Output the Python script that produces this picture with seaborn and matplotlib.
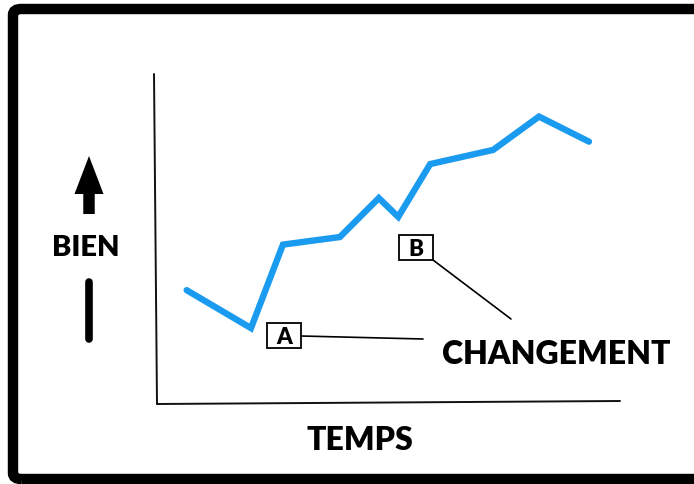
import matplotlib
matplotlib.use("Agg")
import matplotlib.pyplot as plt
import seaborn as sns
import pandas as pd
from matplotlib.patches import FancyBboxPatch, Rectangle, FancyArrow
from matplotlib.lines import Line2D

# data (time vs well-being)
temps = [6.4, 20.3, 27.2, 39.5, 47.9, 52.1, 59.0, 72.6, 82.5, 93.3]
bien = [34.5, 23.0, 48.3, 50.6, 62.4, 56.7, 72.7, 77.0, 87.1, 79.5]
x_label = "TEMPS"
y_label = "BIEN"
change_label = "CHANGEMENT"
markers = ["A", "B"]

sns.set_theme(style="white")
plt.rcParams['font.family'] = ['Lato', 'DejaVu Sans']

W, H = 694, 485
fig = plt.figure(figsize=(W / 100, H / 100), dpi=100)
fig.patch.set_facecolor("white")

def px(x, y):
    return (x / W, 1 - y / H)

# main axes
ax = fig.add_axes([157 / W, (H - 405) / H, (620 - 157) / W, (405 - 75) / H])
df = pd.DataFrame({"t": temps, "v": bien})
sns.lineplot(data=df, x="t", y="v", ax=ax, color="#1A9BF0", linewidth=4.6,
             solid_capstyle="round", solid_joinstyle="miter", sort=False)
ax.set_xlim(0, 100)
ax.set_ylim(0, 100)
ax.axis("off")

T = fig.transFigure
# hand-drawn axes
for (x0, y0), (x1, y1) in [((154, 75), (157, 405)), ((157, 405), (620, 402))]:
    fig.add_artist(Line2D([x0 / W, x1 / W], [1 - y0 / H, 1 - y1 / H], transform=T,
                          color="#111111", lw=1.4))

# outer frame (runs off the right edge)
frame = FancyBboxPatch(px(13, 480), (740 - 13) / W, (480 - 10) / H, transform=T,
                       boxstyle="round,pad=0,rounding_size=0.012", fill=False,
                       edgecolor="black", linewidth=7.5)
fig.add_artist(frame)

# texts
fig.text(*px(86, 248), y_label, transform=T, ha="center", va="center",
         fontsize=21, fontweight="heavy", color="black")
fig.text(*px(360, 441), x_label, transform=T, ha="center", va="center",
         fontsize=23, fontweight="heavy", color="black")
fig.text(*px(556, 355), change_label, transform=T, ha="center", va="center",
         fontsize=23, fontweight="heavy", color="black")

# arrow (up)
fig.add_artist(FancyArrow(89 / W, 1 - 215 / H, 0, (215 - 157) / H, width=8 / H,
                          head_width=29 / W, head_length=38 / H, transform=T,
                          length_includes_head=True, color="black", lw=0))
fig.add_artist(Line2D([89 / W, 89 / W], [1 - 283 / H, 1 - 340 / H], transform=T,
                      color="black", lw=5.5, solid_capstyle="round"))

# marker boxes
boxes = [(267, 324, 34, 25), (399, 236, 34, 25)]
for (bx, by, bw, bh), lab in zip(boxes, markers):
    fig.add_artist(Rectangle(px(bx, by + bh), bw / W, bh / H, transform=T,
                             fill=True, facecolor="white", edgecolor="black", lw=1.3))
    fig.text(*px(bx + bw / 2, by + bh / 2 + 1), lab, transform=T, ha="center",
             va="center", fontsize=16, fontweight="heavy", color="black")

# leader lines
fig.add_artist(Line2D([301 / W, 423 / W], [1 - 337 / H, 1 - 340 / H], transform=T,
                      color="black", lw=1.2))
fig.add_artist(Line2D([433 / W, 511 / W], [1 - 261 / H, 1 - 320 / H], transform=T,
                      color="black", lw=1.2))

fig.savefig("out.png", dpi=100, facecolor="white")
